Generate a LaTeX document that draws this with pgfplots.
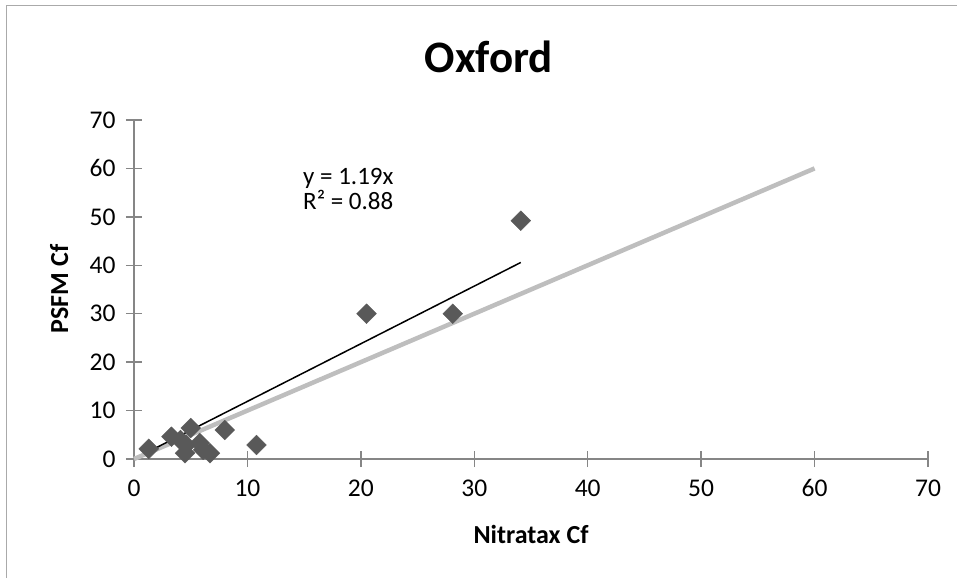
\documentclass[border=0pt]{standalone}
\usepackage{pgfplots}
\pgfplotsset{compat=1.18}
\usepackage{fontspec}
\setmainfont{Carlito}
\definecolor{axgray}{HTML}{868686}
\definecolor{mk}{HTML}{595959}
\definecolor{ref}{HTML}{BEBEBE}
\begin{document}
\begin{tikzpicture}[x=1pt,y=1pt]
\useasboundingbox (0,0) rectangle (957,578);
\draw[color=axgray!70, line width=1pt] (6,0) -- (6,572) -- (957,572);
\begin{axis}[
  at={(134pt,119pt)}, anchor=south west,
  scale only axis, width=794pt, height=339pt,
  xmin=0, xmax=70, ymin=0, ymax=70,
  axis x line=bottom, axis y line=left,
  axis line style={draw=axgray, line width=1.5pt, -},
  xtick={0,10,...,70}, ytick={0,10,...,70},
  tick align=center, major tick length=16pt,
  tick style={draw=axgray, line width=1.5pt},
  /pgf/number format/assume math mode=true,
  tick label style={font=\fontsize{25.5}{25.5}\selectfont},
  xticklabel style={yshift=-9pt},
  yticklabel style={xshift=-7pt},
  clip=false,
]
\addplot[ref, line width=4.5pt] coordinates {(0,0) (60,60)};
\addplot[only marks, mark=square*, mark size=7pt, mark options={rotate=45, fill=mk, draw=mk}] coordinates {
(1.3,2.1) (3.3,4.6) (5.0,6.4) (8.0,6.0) (10.8,2.9)
(4.5,1.2) (5.8,3.3) (6.7,1.2) (4.6,2.9) (4.1,3.9) (6.1,1.9)
(20.5,30.0) (28.1,30.0) (34.1,49.2)
};
\addplot[black, line width=1.5pt] coordinates {(1.3,1.547) (34.1,40.58)};
\node[anchor=base west, inner sep=0pt, font=\fontsize{25}{25}\selectfont] at (axis cs:14.9,56.6) {y = 1.19x};
\node[anchor=base west, inner sep=0pt, font=\fontsize{25}{25}\selectfont] at (axis cs:14.9,51.6) {R² = 0.88};
\end{axis}
\node[anchor=base, inner sep=0pt, font=\fontsize{45}{45}\selectfont\bfseries] at (489,505) {Oxford};
\node[anchor=base, inner sep=0pt, font=\fontsize{26}{26}\selectfont\bfseries] at (531,35) {Nitratax Cf};
\node[anchor=base, inner sep=0pt, font=\fontsize{26}{26}\selectfont\bfseries, rotate=90] at (68,289) {PSFM Cf};
\end{tikzpicture}
\end{document}
